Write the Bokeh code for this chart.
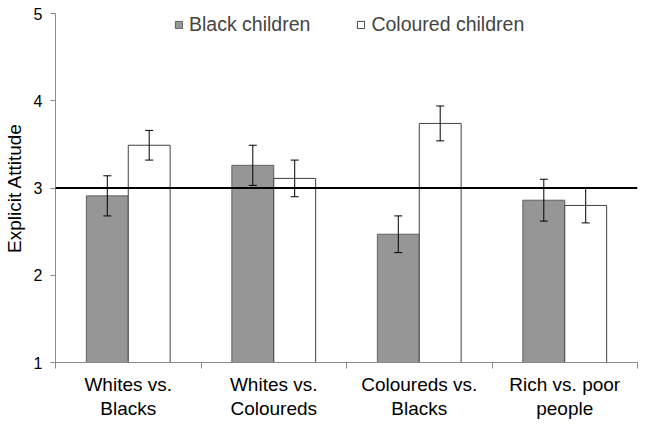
from bokeh.plotting import figure
from bokeh.models import (ColumnDataSource, Whisker, TeeHead, Span, Legend, LegendItem,
                          FixedTicker, Range1d)
from bokeh.embed import file_html
from bokeh.resources import INLINE

categories = ["Whites vs.\nBlacks", "Whites vs.\nColoureds", "Coloureds vs.\nBlacks", "Rich vs. poor\npeople"]
black_means = [2.91, 3.26, 2.47, 2.86]
black_err = [0.23, 0.23, 0.21, 0.24]
coloured_means = [3.49, 3.11, 3.74, 2.80]
coloured_err = [0.17, 0.21, 0.20, 0.20]
y_ticks = [1, 2, 3, 4, 5]
neutral = 3

FONT = "Liberation Sans"
n = len(categories)
centers = [i + 0.5 for i in range(n)]
off = 0.144
bw = 0.288

src_b = ColumnDataSource(dict(
    x=[c - off for c in centers], top=black_means,
    lo=[m - e for m, e in zip(black_means, black_err)],
    hi=[m + e for m, e in zip(black_means, black_err)]))
src_c = ColumnDataSource(dict(
    x=[c + off for c in centers], top=coloured_means,
    lo=[m - e for m, e in zip(coloured_means, coloured_err)],
    hi=[m + e for m, e in zip(coloured_means, coloured_err)]))

p = figure(width=645, height=426, output_backend="svg", toolbar_location=None,
           x_range=Range1d(0, n), y_range=Range1d(1, 5),
           min_border_left=55, min_border_right=8, min_border_top=13, min_border_bottom=64)
p.outline_line_color = None
p.xgrid.grid_line_color = None
p.ygrid.grid_line_color = None

rb = p.vbar(x="x", top="top", bottom=1, width=bw, source=src_b,
            fill_color="#969696", line_color="#606060", line_width=1)
rc = p.vbar(x="x", top="top", bottom=1, width=bw, source=src_c,
            fill_color="#ffffff", line_color="#404040", line_width=1)

p.add_layout(Span(location=neutral, dimension="width", line_color="black", line_width=2))

for src in (src_b, src_c):
    w = Whisker(source=src, base="x", lower="lo", upper="hi", line_color="black", line_width=1,
                level="overlay",
                upper_head=TeeHead(size=8, line_color="black", line_width=1),
                lower_head=TeeHead(size=8, line_color="black", line_width=1))
    p.add_layout(w)

# axes
p.xaxis.ticker = FixedTicker(ticks=centers, minor_ticks=list(range(n + 1)))
p.xaxis.major_label_overrides = {c: lab for c, lab in zip(centers, categories)}
p.xaxis.major_tick_out = 0
p.xaxis.major_tick_in = 0
p.xaxis.minor_tick_out = 6
p.xaxis.minor_tick_in = 0
p.xaxis.minor_tick_line_color = "#8a8a8a"
p.xaxis.axis_line_color = "#8a8a8a"
p.xaxis.major_label_text_font = FONT
p.xaxis.major_label_text_font_size = "19px"
p.xaxis.major_label_text_color = "black"
p.xaxis.major_label_text_line_height = 1.18
p.xaxis.major_label_standoff = 5

p.yaxis.ticker = FixedTicker(ticks=y_ticks, minor_ticks=[])
p.yaxis.major_tick_out = 5
p.yaxis.major_tick_in = 0
p.yaxis.major_tick_line_color = "#8a8a8a"
p.yaxis.axis_line_color = "#8a8a8a"
p.yaxis.major_label_text_font = FONT
p.yaxis.major_label_text_font_size = "16px"
p.yaxis.major_label_text_color = "black"
p.yaxis.major_label_standoff = 8
p.yaxis.axis_label = "Explicit Attitude"
p.yaxis.axis_label_text_font = FONT
p.yaxis.axis_label_text_font_size = "19px"
p.yaxis.axis_label_text_font_style = "normal"
p.yaxis.axis_label_text_color = "black"
p.yaxis.axis_label_standoff = 6

legend = Legend(items=[LegendItem(label="Black children", renderers=[rb]),
                       LegendItem(label="Coloured children", renderers=[rc])],
                location=(119, 326), orientation="horizontal",
                border_line_color=None, background_fill_alpha=0,
                label_text_font=FONT, label_text_font_size="19.5px",
                glyph_width=9, glyph_height=9, spacing=46, padding=0,
                label_standoff=6, margin=0)
p.add_layout(legend)

open("out.html", "w").write(file_html(p, INLINE))
